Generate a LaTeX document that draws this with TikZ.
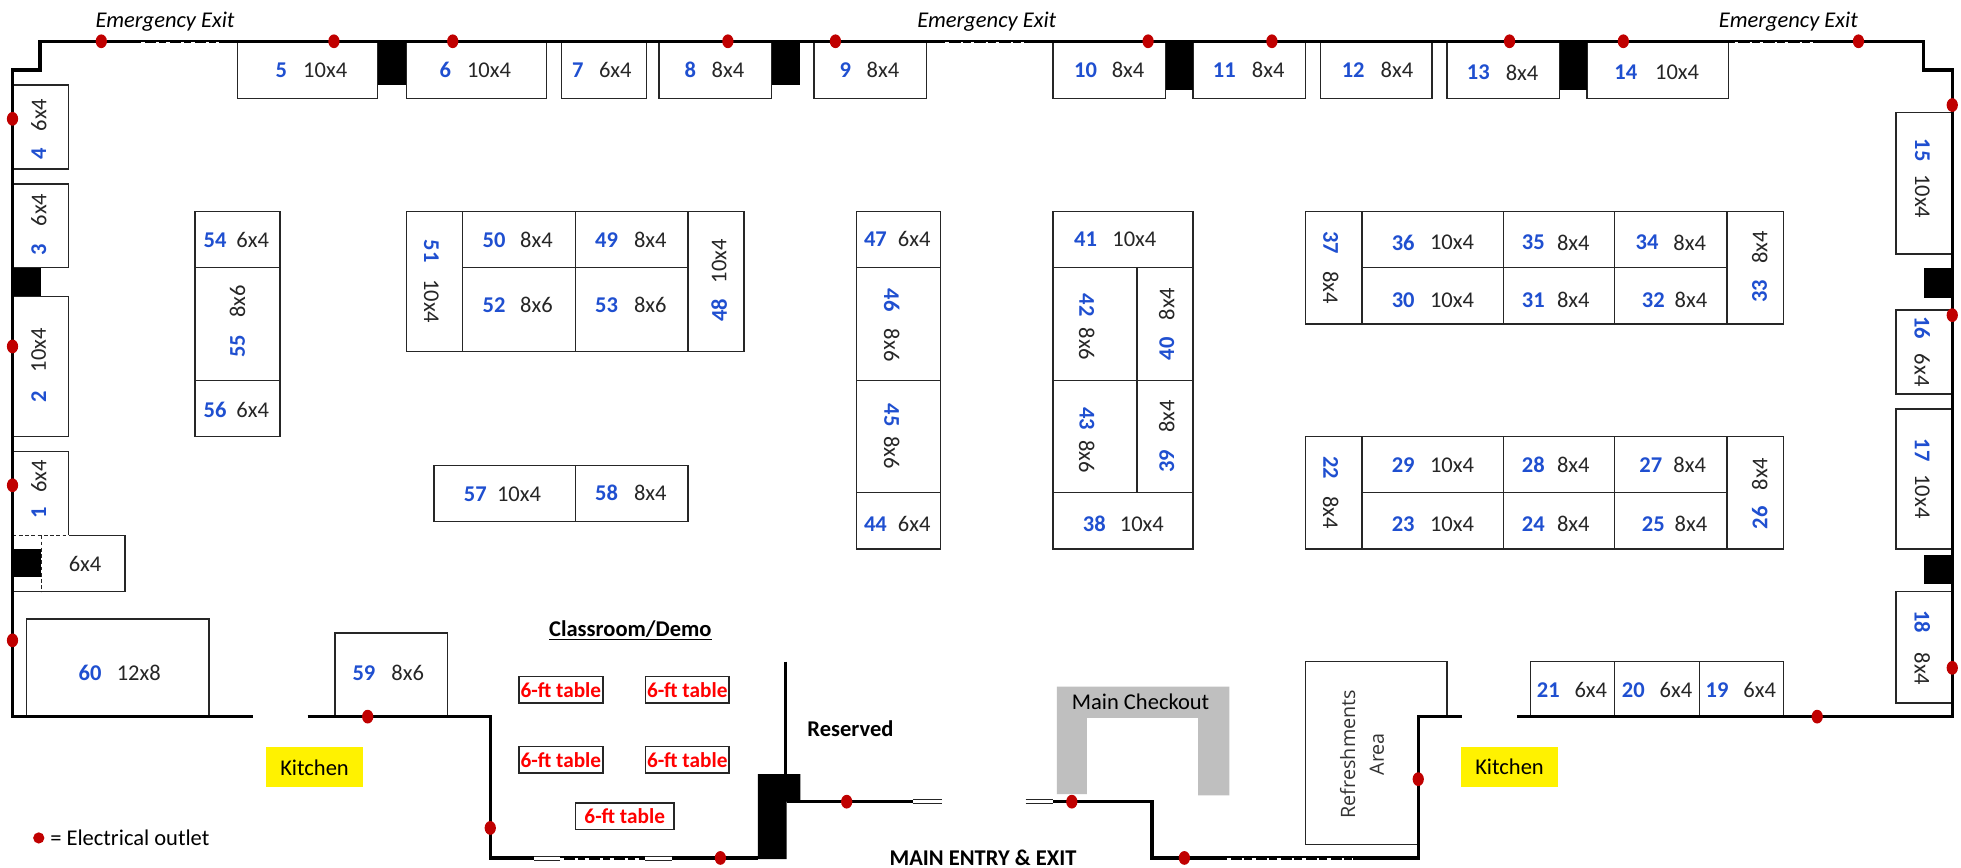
\documentclass[tikz,border=0pt]{standalone}
\usepackage{fontspec}
\setmainfont{Carlito}
\newfontfamily\reffont{Open Sans}
\definecolor{numblue}{HTML}{1F4FD0}
\definecolor{outred}{HTML}{C00000}
\definecolor{boxline}{HTML}{262626}
\definecolor{ggray}{HTML}{BFBFBF}
\tikzset{
  boothline/.style={draw=boxline,line width=1.1pt},
  wallline/.style={draw=black,line width=2.7pt,line join=miter},
  pillar/.style={fill=black,draw=none},
  opening/.style={draw=boxline,line width=0.8pt},
  exitbreak/.style={draw=white,line width=1.4pt,dash pattern=on 3pt off 9pt on 2pt off 6pt},
  outlet/.style={shape=ellipse,fill=outred,draw=none,minimum width=9pt,minimum height=11pt,inner sep=0pt},
  numlabel/.style={font=\fontsize{18}{21}\selectfont\bfseries,text=numblue,inner sep=0pt},
  sizelabel/.style={font=\fontsize{18}{21}\selectfont,text=black!85,inner sep=0pt},
  exitlabel/.style={font=\fontsize{18}{21}\selectfont\itshape,inner sep=0pt},
  tablebox/.style={draw=boxline,line width=1.1pt,fill=white,text=red,font=\fontsize{17}{20}\selectfont\bfseries,inner sep=0pt,minimum height=21pt},
  kitchenbox/.style={fill=yellow,font=\fontsize{18}{21}\selectfont,inner sep=0pt,minimum width=78pt,minimum height=32pt},
  titlelabel/.style={font=\fontsize{18}{21}\selectfont\bfseries,inner sep=0pt},
}
\usetikzlibrary{shapes.geometric}
% booth rectangle
\newcommand{\bthbox}[4]{\path[boothline] (#1,#2) rectangle (#3,#4);}
% number + size, horizontal
\newcommand{\labH}[6]{\node[numlabel] (n#1) at (#2,#3) {#1};\node[sizelabel] (s#1) at (#4,#5) {#6};}
% rotated: top-down
\newcommand{\labD}[6]{\node[numlabel,rotate=-90] (n#1) at (#2,#3) {#1};\node[sizelabel,rotate=-90] (s#1) at (#4,#5) {#6};}
% rotated: bottom-up
\newcommand{\labU}[6]{\node[numlabel,rotate=90] (n#1) at (#2,#3) {#1};\node[sizelabel,rotate=90] (s#1) at (#4,#5) {#6};}
\begin{document}
\begin{tikzpicture}[x=1pt,y=-1pt]
\path[use as bounding box,fill=white] (0,0) rectangle (1568,694);

% grey checkout counter
\fill[ggray] (845,549) -- (983,549) -- (983,636) -- (958,636) -- (958,574) -- (869,574) -- (869,635) -- (845,635) -- cycle;

% booths on the walls
\foreach \a/\b in {190/302,325/437,449/517,527/617,651/741,842/932,954/1044,1056/1145,1157/1247,1269/1382}
  {\bthbox{\a}{33}{\b}{79}}
\bthbox{10}{68}{55}{135}
\bthbox{10}{147}{55}{214}
\bthbox{10}{237}{55}{349}
\path[boothline] (10,361) -- (55,361) -- (55,428);
\bthbox{1516}{90}{1561}{203}
\bthbox{1516}{248}{1561}{315}
\bthbox{1516}{327}{1561}{439}
\bthbox{1516}{473}{1561}{562}
\bthbox{21}{495}{167}{573}
\bthbox{268}{506}{358}{573}
\bthbox{1224}{529}{1291}{573}
\bthbox{1291}{529}{1359}{573}
\bthbox{1359}{529}{1426}{573}

% unnumbered 6x4 with dashed edges
\path[boothline] (55,428) -- (100,428) -- (100,473) -- (10,473);
\path[boothline,densely dashed,line width=0.9pt] (10,428) -- (55,428);

% island 54-56
\bthbox{156}{169}{224}{214}
\bthbox{156}{214}{224}{304}
\bthbox{156}{304}{224}{349}
% island 48-53
\bthbox{325}{169}{370}{281}
\bthbox{370}{169}{460}{214}
\bthbox{460}{169}{550}{214}
\bthbox{370}{214}{460}{281}
\bthbox{460}{214}{550}{281}
\bthbox{550}{169}{595}{281}
% 57-58
\bthbox{347}{372}{460}{417}
\bthbox{460}{372}{550}{417}
% island 44-47
\bthbox{685}{169}{752}{214}
\bthbox{685}{214}{752}{304}
\bthbox{685}{304}{752}{394}
\bthbox{685}{394}{752}{439}
% island 38-43
\bthbox{842}{169}{954}{214}
\bthbox{842}{214}{909}{304}
\bthbox{909}{214}{954}{304}
\bthbox{842}{304}{909}{394}
\bthbox{909}{304}{954}{394}
\bthbox{842}{394}{954}{439}
% island 30-37
\bthbox{1044}{169}{1089}{259}
\bthbox{1381}{169}{1426}{259}
\foreach \a/\b in {1089/1202,1202/1291,1291/1381}
  {\bthbox{\a}{169}{\b}{214}\bthbox{\a}{214}{\b}{259}}
% island 22-29
\bthbox{1044}{349}{1089}{439}
\bthbox{1381}{349}{1426}{439}
\foreach \a/\b in {1089/1202,1202/1291,1291/1381}
  {\bthbox{\a}{349}{\b}{394}\bthbox{\a}{394}{\b}{439}}
% refreshments
\path[boothline] (1157,573) -- (1157,529) -- (1044,529) -- (1044,675) -- (1134,675);

% pillars
\fill[pillar] (302,33) rectangle (325,68);
\fill[pillar] (617,33) rectangle (640,68);
\fill[pillar] (932,33) rectangle (954,72);
\fill[pillar] (1247,33) rectangle (1269,72);
\fill[pillar] (10,214) rectangle (33,237);
\fill[pillar] (10,439) rectangle (33,461);
\fill[pillar] (1538,214) rectangle (1561,238);
\fill[pillar] (1538,444) rectangle (1561,467);
\fill[pillar] (606,619) -- (640,619) -- (640,641) -- (629,641) -- (629,687) -- (606,687) -- cycle;
\path[draw=white,line width=1.2pt] (33,439) -- (33,461);
\path[boothline,densely dashed,line width=0.9pt] (33,428) -- (33,473);

% walls
\path[wallline] (202,573) -- (10,573) -- (10,56) -- (32,56) -- (32,33) -- (1538,33) -- (1538,56) -- (1561,56) -- (1561,573) -- (1213,573);
\path[wallline] (246,573) -- (392,573) -- (392,686) -- (606,686);
\path[wallline] (629,641) -- (730,641);
\path[wallline] (842,641) -- (921,641) -- (921,686) -- (1134,686) -- (1134,573) -- (1169,573);
\path[draw=black,line width=2.2pt] (628,529) -- (628,619);
% door openings
\foreach \a/\b in {730/753,820/842}{
  \path[fill=white] (\a,639) rectangle (\b,643.5);
  \path[opening] (\a,639.6) -- (\b,639.6);
  \path[opening] (\a,642.8) -- (\b,642.8);
}
\foreach \a/\b in {427/448,516/537}{
  \path[fill=white] (\a,684.5) rectangle (\b,689);
  \path[opening] (\a,685) -- (\b,685);
  \path[opening] (\a,688.2) -- (\b,688.2);
}
% emergency exit breaks in the wall
\path[exitbreak] (113,34.2) -- (175,34.2);
\path[exitbreak] (756,34.2) -- (826,34.2);
\path[exitbreak] (1387,34.2) -- (1456,34.2);
\path[exitbreak] (448,687) -- (516,687);
\path[exitbreak] (981,687) -- (1082,687);

% outlets
\foreach \i/\px/\py in {1/81/33,2/267/33,3/362/33,4/582/33,5/668/33,6/918/33,7/1017/33,8/1207/33,9/1298/33,10/1486/33,11/1561/84,12/1561/252,13/1561/534,14/10/95,15/10/277,16/10/388,17/10/512,18/294/573,19/392/662,20/576/686,21/677/641,22/857/641,23/947/686,24/1134/623,25/1453/573}
  {\node[outlet] (out\i) at (\px,\py) {};}
\node[outlet,minimum width=9pt,minimum height=9pt] (legenddot) at (31,670) {};
\node[font=\fontsize{18}{21}\selectfont,inner sep=0pt,anchor=west] (legendtext) at (40,670) {= Electrical outlet};

% labels
\labH{5}{225}{56}{260}{56}{10x4}
\labH{6}{356}{56}{391}{56}{10x4}
\labH{7}{462}{56}{492}{56}{6x4}
\labH{8}{552}{56}{582}{56}{8x4}
\labH{9}{676}{56}{706}{56}{8x4}
\labH{10}{868}{56}{902}{56}{8x4}
\labH{11}{979}{56}{1014}{56}{8x4}
\labH{12}{1082}{56}{1117}{56}{8x4}
\labH{13}{1182}{58}{1217}{58}{8x4}
\labH{14}{1300}{58}{1341}{58}{10x4}
\labD{15}{1537}{120}{1537}{157}{10x4}
\labD{16}{1537}{262}{1537}{296}{6x4}
\labD{17}{1537}{360}{1537}{397}{10x4}
\labD{18}{1537}{497}{1537}{535}{8x4}
\labU{4}{31}{123}{31}{92}{6x4}
\labU{3}{31}{200}{31}{168}{6x4}
\labU{2}{31}{317}{31}{280}{10x4}
\labU{1}{31}{410}{31}{381}{6x4}
\node[sizelabel] (extra) at (68,451) {6x4};
\labH{54}{172}{192}{202}{192}{6x4}
\labU{55}{190}{277}{190}{241}{8x6}
\labH{56}{172}{328}{202}{328}{6x4}
\labD{51}{345}{201}{345}{241}{10x4}
\labH{50}{395}{192}{429}{192}{8x4}
\labH{49}{485}{192}{520}{192}{8x4}
\labH{52}{395}{244}{429}{244}{8x6}
\labH{53}{485}{244}{520}{244}{8x6}
\labU{48}{575}{248}{575}{209}{10x4}
\labH{57}{380}{395}{415}{395}{10x4}
\labH{58}{485}{394}{520}{394}{8x4}
\labH{47}{700}{191}{731}{191}{6x4}
\labD{46}{713}{240}{713}{276}{8x6}
\labD{45}{713}{332}{713}{362}{8x6}
\labH{44}{700}{419}{731}{419}{6x4}
\labH{41}{868}{191}{907}{191}{10x4}
\labD{42}{869}{244}{869}{275}{8x6}
\labU{40}{933}{279}{933}{243}{8x4}
\labD{43}{869}{335}{869}{365}{8x6}
\labU{39}{933}{369}{933}{333}{8x4}
\labH{38}{875}{419}{913}{419}{10x4}
\labD{37}{1064}{194}{1064}{230}{8x4}
\labH{36}{1122}{194}{1161}{194}{10x4}
\labH{35}{1226}{194}{1258}{194}{8x4}
\labH{34}{1317}{194}{1351}{194}{8x4}
\labU{33}{1407}{233}{1407}{198}{8x4}
\labH{30}{1122}{240}{1161}{240}{10x4}
\labH{31}{1226}{240}{1258}{240}{8x4}
\labH{32}{1322}{240}{1352}{240}{8x4}
\labD{22}{1064}{374}{1064}{410}{8x4}
\labH{29}{1122}{372}{1161}{372}{10x4}
\labH{28}{1226}{372}{1258}{372}{8x4}
\labH{27}{1320}{372}{1351}{372}{8x4}
\labU{26}{1407}{414}{1407}{379}{8x4}
\labH{23}{1122}{419}{1161}{419}{10x4}
\labH{24}{1226}{419}{1258}{419}{8x4}
\labH{25}{1322}{419}{1352}{419}{8x4}
\labH{21}{1238}{552}{1272}{552}{6x4}
\labH{20}{1306}{552}{1340}{552}{6x4}
\labH{19}{1373}{552}{1407}{552}{6x4}
\labH{60}{72}{538}{111}{538}{12x8}
\labH{59}{291}{538}{326}{538}{8x6}

% exits
\node[exitlabel] (exitA) at (132,17) {Emergency Exit};
\node[exitlabel] (exitB) at (789,17) {Emergency Exit};
\node[exitlabel] (exitC) at (1430,17) {Emergency Exit};

% kitchens
\node[kitchenbox] (kitchenA) at (251.5,613.5) {Kitchen};
\node[kitchenbox] (kitchenB) at (1207,613) {Kitchen};

% classroom
\node[titlelabel] (classroom) at (504,504) {\underline{Classroom/Demo}};
\node[tablebox,minimum width=67pt] (tableA) at (448.5,551.5) {6-ft table};
\node[tablebox,minimum width=67pt] (tableB) at (549.5,551.5) {6-ft table};
\node[tablebox,minimum width=67pt] (tableC) at (448.5,607.5) {6-ft table};
\node[tablebox,minimum width=67pt] (tableD) at (549.5,607.5) {6-ft table};
\node[tablebox,minimum width=79pt] (tableE) at (499.5,652.5) {6-ft table};

\node[titlelabel] (reserved) at (680,583) {Reserved};
\node[titlelabel] (mainentry) at (786,686) {MAIN ENTRY \& EXIT};
\node[font=\fontsize{18}{21}\selectfont,inner sep=0pt] (checkout) at (912,561) {Main Checkout};
\node[font=\reffont\fontsize{15.8}{23}\selectfont,text=black!80,rotate=90,align=center,inner sep=0pt] (refresh) at (1089,603) {Refreshments\\Area};
\end{tikzpicture}
\end{document}
